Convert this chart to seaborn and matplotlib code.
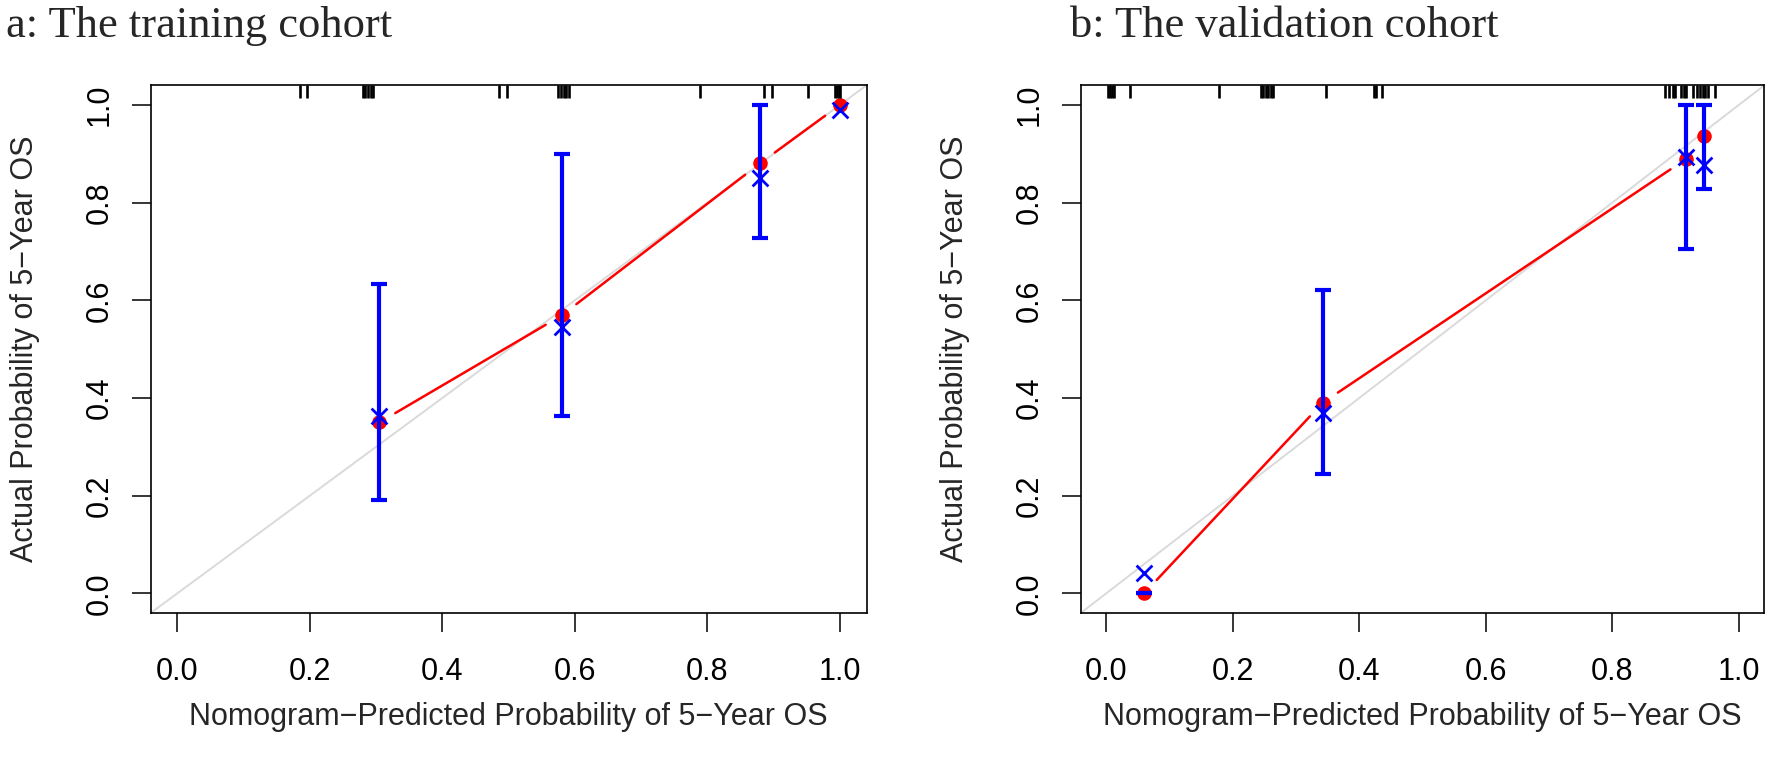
import numpy as np
import matplotlib
matplotlib.use("Agg")
from matplotlib import pyplot as plt
import seaborn as sns

# calibration data
train_pred = [0.305, 0.580, 0.879, 1.0]
train_obs = [0.350, 0.569, 0.880, 1.0]
train_corr = [0.363, 0.546, 0.850, 0.990]
train_lo = [0.192, 0.363, 0.728, np.nan]
train_hi = [0.633, 0.900, 1.0, np.nan]
train_rug = [0.185, 0.196, 0.280, 0.284, 0.288, 0.292, 0.296, 0.485, 0.497,
             0.575, 0.579, 0.583, 0.587, 0.591, 0.789, 0.885, 0.897, 0.951,
             0.993, 0.996, 0.998, 1.0]

valid_pred = [0.060, 0.342, 0.916, 0.945]
valid_obs = [0.0, 0.390, 0.889, 0.937]
valid_corr = [0.042, 0.370, 0.893, 0.877]
valid_lo = [0.0, 0.245, 0.705, 0.828]
valid_hi = [0.0, 0.622, 1.0, 1.0]
valid_rug = [0.003, 0.006, 0.009, 0.013, 0.038, 0.179, 0.244, 0.248, 0.252,
             0.256, 0.260, 0.264, 0.347, 0.423, 0.427, 0.436, 0.883, 0.889,
             0.895, 0.899, 0.909, 0.913, 0.917, 0.928, 0.933, 0.938, 0.943,
             0.947, 0.951, 0.962]

titles = ["a: The training cohort", "b: The validation cohort"]
xlab = "Nomogram\u2212Predicted Probability of 5\u2212Year OS"
ylab = "Actual Probability of 5\u2212Year OS"
ticks = [0.0, 0.2, 0.4, 0.6, 0.8, 1.0]
tick_labels = ["0.0", "0.2", "0.4", "0.6", "0.8", "1.0"]

sns.set_style("white")
plt.rcParams["font.family"] = ["Liberation Sans", "DejaVu Sans"]

fig = plt.figure(figsize=(17.7, 7.66), dpi=100)
ax_a = fig.add_axes([0.0851, 0.1997, 0.4045, 0.689])
ax_b = fig.add_axes([0.6106, 0.1997, 0.3862, 0.689])


def gapped_line(ax, xs, ys, gap_px, **kw):
    # R type="b" style: line segments stop short of the points
    pts = ax.transData.transform(np.column_stack([xs, ys]))
    inv = ax.transData.inverted()
    for p, q in zip(pts[:-1], pts[1:]):
        d = q - p
        L = np.hypot(*d)
        if L <= 2 * gap_px:
            continue
        u = d / L
        seg = inv.transform([p + u * gap_px, q - u * gap_px])
        ax.plot(seg[:, 0], seg[:, 1], **kw)


def calib_panel(ax, pred, obs, corr, lo, hi, rug, title, title_x):
    lim = (-0.04, 1.04)
    ax.set_xlim(*lim)
    ax.set_ylim(*lim)
    ax.plot(lim, lim, color="#dadada", lw=1.4, zorder=1)

    gapped_line(ax, pred, obs, 18.5, color="red", lw=1.8, zorder=2)
    sns.scatterplot(x=pred, y=obs, color="red", s=110, linewidth=0, ax=ax, zorder=3)

    pred_a = np.array(pred)
    lo_a, hi_a = np.array(lo), np.array(hi)
    ok = ~np.isnan(lo_a)
    mid = (lo_a[ok] + hi_a[ok]) / 2
    ax.errorbar(pred_a[ok], mid, yerr=[mid - lo_a[ok], hi_a[ok] - mid], fmt="none",
                ecolor="blue", elinewidth=3, capsize=5.5, capthick=3, zorder=4)

    sns.scatterplot(x=pred, y=corr, color="blue", marker="x", s=130, linewidth=2,
                    ax=ax, zorder=5)

    # rug of predicted values along the top
    ax.vlines(rug, 0.976, 1.0, transform=ax.get_xaxis_transform(), color="black",
              lw=1.9, zorder=6)

    ax.set_xticks(ticks)
    ax.set_xticklabels(tick_labels)
    ax.set_yticks(ticks)
    ax.set_yticklabels(tick_labels, rotation=90, va="center")
    ax.tick_params(axis="both", direction="out", length=14, width=1.1,
                   labelsize=22, color="black", labelcolor="black",
                   bottom=True, left=True)
    ax.tick_params(axis="x", pad=18)
    ax.tick_params(axis="y", pad=12)
    for sp in ax.spines.values():
        sp.set_visible(True)
        sp.set_color("black")
        sp.set_linewidth(1.2)

    w_px = ax.get_position().width * fig.get_figwidth() * fig.dpi
    ax.set_xlabel(xlab, fontsize=22)
    ax.xaxis.set_label_coords(0.5, -0.197)
    ax.xaxis.label.set_va("center")
    ax.set_ylabel(ylab, fontsize=22)
    ax.yaxis.set_label_coords(-126 / w_px, 0.5)
    ax.yaxis.label.set_va("center")

    fig.text(title_x, 0.952, title, fontsize=32, va="baseline", ha="left",
             family=["Liberation Serif", "DejaVu Serif"])


calib_panel(ax_a, train_pred, train_obs, train_corr, train_lo, train_hi,
            train_rug, titles[0], 0.0034)
calib_panel(ax_b, valid_pred, valid_obs, valid_corr, valid_lo, valid_hi,
            valid_rug, titles[1], 0.6045)

plt.savefig("out.png", dpi=100)
plt.close()
